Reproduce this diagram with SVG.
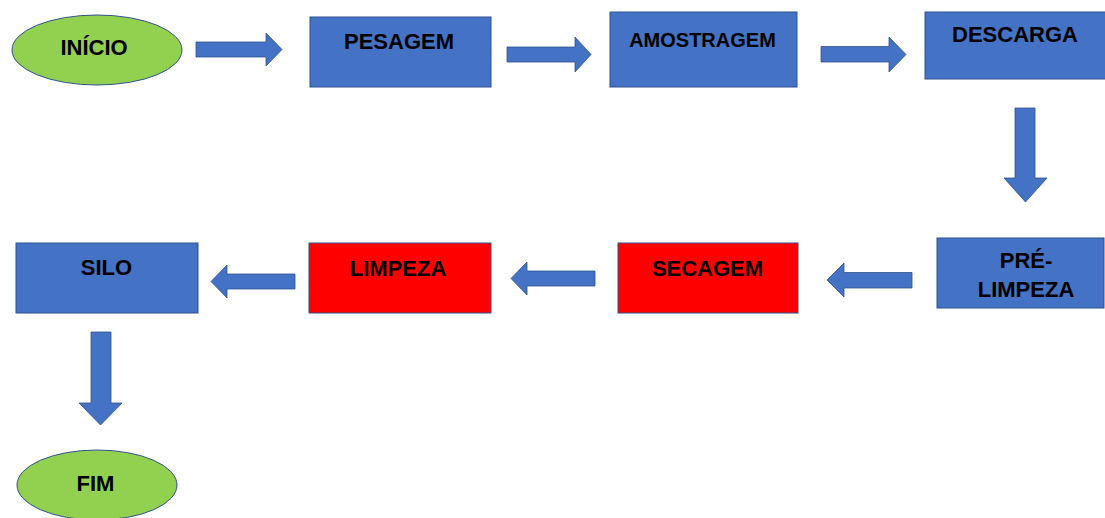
<svg xmlns="http://www.w3.org/2000/svg" width="1105" height="518" viewBox="0 0 1105 518">
  <style>
    .step { fill: #4472C4; stroke: #2F528F; stroke-width: 1; }
    .hot { fill: #FF0000; stroke: #2F528F; stroke-width: 1; }
    .term { fill: #92D050; stroke: #2F528F; stroke-width: 1; }
    .arrow { fill: #4472C4; stroke: #2F528F; stroke-width: 0.8; }
    text { font-family: "Liberation Sans", Arial, sans-serif; font-weight: bold; font-size: 22px; fill: #000; text-anchor: middle; }
    .small { font-size: 20px; }
  </style>
  <rect width="1105" height="518" fill="#FFFFFF"/>

  <!-- block arrows between stages -->
  <g id="connectors">
    <polygon class="arrow" points="196,42 266,42 266,33 282,49.5 266,66 266,57 196,57"/>
    <polygon class="arrow" points="507,47 575,47 575,37 591,54.5 575,72 575,62 507,62"/>
    <polygon class="arrow" points="821,46.5 889,46.5 889,37 906,54.5 889,72 889,62 821,62"/>
    <polygon class="arrow" points="1015,108 1035,108 1035,178 1047,178 1025.5,202 1004,178 1015,178"/>
    <polygon class="arrow" points="912,272.5 844,272.5 844,263 827,280 844,297 844,288 912,288"/>
    <polygon class="arrow" points="595,271 527,271 527,262 511,278.5 527,295 527,286 595,286"/>
    <polygon class="arrow" points="295,274 227,274 227,265 211,281.5 227,298 227,289 295,289"/>
    <polygon class="arrow" points="91,332 111,332 111,403 122,403 100.5,425 79,403 91,403"/>
  </g>

  <g id="inicio">
    <ellipse class="term" cx="97" cy="50" rx="85" ry="35"/>
    <text x="94" y="55">INÍCIO</text>
  </g>

  <g id="pesagem">
    <rect class="step" x="310" y="17" width="181" height="70"/>
    <text x="399" y="49">PESAGEM</text>
  </g>

  <g id="amostragem">
    <rect class="step" x="610" y="12" width="187" height="75"/>
    <text class="small" x="702.5" y="47">AMOSTRAGEM</text>
  </g>

  <g id="descarga">
    <rect class="step" x="925" y="12" width="182" height="67"/>
    <text x="1015" y="42">DESCARGA</text>
  </g>

  <g id="pre-limpeza">
    <rect class="step" x="937" y="238" width="167" height="70"/>
    <text x="1026" y="268">PRÉ-</text>
    <text x="1026" y="297">LIMPEZA</text>
  </g>

  <g id="secagem">
    <rect class="hot" x="618" y="243" width="180" height="70"/>
    <text x="707.5" y="276">SECAGEM</text>
  </g>

  <g id="limpeza">
    <rect class="hot" x="309" y="243" width="182" height="70"/>
    <text x="398" y="276">LIMPEZA</text>
  </g>

  <g id="silo">
    <rect class="step" x="16" y="243" width="182" height="70"/>
    <text x="106.5" y="275">SILO</text>
  </g>

  <g id="fim">
    <ellipse class="term" cx="97" cy="485" rx="80" ry="35"/>
    <text x="95.5" y="491">FIM</text>
  </g>
</svg>
